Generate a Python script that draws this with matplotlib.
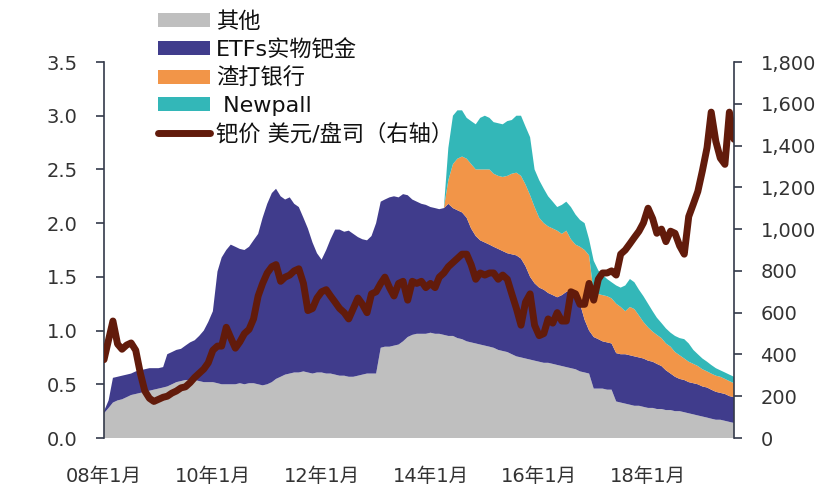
import pandas as pd
import matplotlib.pyplot as plt
from matplotlib.patches import Patch
from matplotlib.lines import Line2D
from matplotlib.ticker import FuncFormatter

plt.rcParams["font.family"] = ["DejaVu Sans", "Noto Sans CJK SC"]

# ----------------------------------
# DATA (monthly, 2008-01 .. 2019-08)
# ----------------------------------
dates = pd.date_range("2008-01-01", periods=140, freq="MS")

# 其他
other = [
    0.23, 0.28, 0.33, 0.35, 0.36, 0.38, 0.40, 0.41, 0.42, 0.43, 0.44, 0.45,
    0.46, 0.47, 0.48, 0.50, 0.52, 0.53, 0.54, 0.54, 0.54, 0.53, 0.52, 0.52,
    0.52, 0.51, 0.50, 0.50, 0.50, 0.50, 0.51, 0.50, 0.51, 0.51, 0.50, 0.49,
    0.50, 0.52, 0.55, 0.57, 0.59, 0.60, 0.61, 0.61, 0.62, 0.61, 0.60, 0.61,
    0.61, 0.60, 0.60, 0.59, 0.58, 0.58, 0.57, 0.57, 0.58, 0.59, 0.60, 0.60,
    0.60, 0.84, 0.85, 0.85, 0.86, 0.87, 0.90, 0.94, 0.96, 0.97, 0.97, 0.97,
    0.98, 0.97, 0.97, 0.96, 0.95, 0.95, 0.93, 0.92, 0.90, 0.89, 0.88, 0.87,
    0.86, 0.85, 0.84, 0.82, 0.81, 0.80, 0.78, 0.76, 0.75, 0.74, 0.73, 0.72,
    0.71, 0.70, 0.70, 0.69, 0.68, 0.67, 0.66, 0.65, 0.64, 0.62, 0.61, 0.60,
    0.46, 0.46, 0.46, 0.45, 0.45, 0.34, 0.33, 0.32, 0.31, 0.30, 0.30, 0.29,
    0.28, 0.28, 0.27, 0.27, 0.26, 0.26, 0.25, 0.25, 0.24, 0.23, 0.22, 0.21,
    0.20, 0.19, 0.18, 0.17, 0.17, 0.16, 0.15, 0.14,
]

# ETFs实物钯金
etf = [
    0.02, 0.07, 0.23, 0.22, 0.22, 0.21, 0.20, 0.21, 0.21, 0.21, 0.21, 0.20,
    0.19, 0.19, 0.30, 0.30, 0.30, 0.30, 0.32, 0.35, 0.37, 0.42, 0.48, 0.56,
    0.66, 1.04, 1.18, 1.25, 1.30, 1.28, 1.25, 1.25, 1.27, 1.33, 1.40, 1.56,
    1.68, 1.76, 1.77, 1.68, 1.63, 1.64, 1.57, 1.54, 1.43, 1.34, 1.22, 1.11,
    1.05, 1.15, 1.25, 1.35, 1.36, 1.34, 1.36, 1.33, 1.29, 1.26, 1.24, 1.28,
    1.40, 1.36, 1.37, 1.39, 1.39, 1.37, 1.37, 1.32, 1.26, 1.23, 1.21, 1.20,
    1.17, 1.17, 1.16, 1.18, 1.23, 1.19, 1.19, 1.18, 1.15, 1.06, 1.00, 0.97,
    0.96, 0.95, 0.94, 0.94, 0.93, 0.92, 0.93, 0.94, 0.92, 0.86, 0.77, 0.72,
    0.69, 0.68, 0.65, 0.64, 0.63, 0.66, 0.70, 0.72, 0.72, 0.63, 0.49, 0.40,
    0.48, 0.46, 0.44, 0.44, 0.43, 0.45, 0.45, 0.46, 0.46, 0.46, 0.45, 0.45,
    0.44, 0.43, 0.42, 0.40, 0.37, 0.34, 0.32, 0.30, 0.30, 0.29, 0.29, 0.29,
    0.28, 0.28, 0.27, 0.26, 0.25, 0.25, 0.24, 0.24,
]

# 渣打银行 (starts 2014-05)
sc = [0.0] * 72 + [
    0.00, 0.00, 0.00, 0.00, 0.22, 0.41, 0.48, 0.52, 0.55, 0.60, 0.62, 0.66,
    0.68, 0.70, 0.68, 0.68, 0.69, 0.72, 0.75, 0.77, 0.77, 0.76, 0.76, 0.71,
    0.65, 0.62, 0.62, 0.62, 0.62, 0.57, 0.57, 0.48, 0.44, 0.53, 0.65, 0.70,
    0.41, 0.42, 0.43, 0.43, 0.42, 0.46, 0.44, 0.40, 0.45, 0.44, 0.39, 0.34,
    0.31, 0.28, 0.27, 0.26, 0.25, 0.25, 0.23, 0.22, 0.20, 0.19, 0.18, 0.17,
    0.16, 0.15, 0.15, 0.15, 0.15, 0.14, 0.14, 0.13,
]

# Newpall (starts 2014-05)
newpall = [0.0] * 72 + [
    0.00, 0.00, 0.00, 0.00, 0.30, 0.45, 0.45, 0.43, 0.38, 0.40, 0.42, 0.48,
    0.50, 0.48, 0.48, 0.49, 0.49, 0.51, 0.50, 0.53, 0.56, 0.54, 0.54, 0.35,
    0.35, 0.32, 0.28, 0.25, 0.22, 0.27, 0.27, 0.30, 0.28, 0.25, 0.25, 0.15,
    0.30, 0.22, 0.19, 0.16, 0.15, 0.17, 0.18, 0.24, 0.26, 0.25, 0.24, 0.24,
    0.22, 0.19, 0.16, 0.14, 0.14, 0.13, 0.15, 0.16, 0.18, 0.17, 0.13, 0.11,
    0.10, 0.09, 0.08, 0.07, 0.06, 0.06, 0.06, 0.06,
]

# 钯价 美元/盎司 (right axis)
price = [
    375, 470, 560, 450, 425, 445, 455, 420, 310, 225, 190, 175,
    185, 195, 200, 215, 225, 240, 245, 265, 290, 310, 330, 360,
    420, 440, 440, 530, 480, 430, 460, 500, 520, 570, 680, 740,
    790, 820, 830, 750, 770, 780, 800, 810, 740, 610, 620, 670,
    700, 710, 680, 650, 620, 600, 570, 620, 670, 640, 600, 690,
    700, 740, 770, 720, 680, 740, 750, 660, 750, 740, 750, 720,
    740, 720, 770, 790, 820, 840, 860, 880, 880, 830, 760, 790,
    780, 790, 790, 760, 780, 760, 690, 620, 540, 650, 690, 540,
    490, 500, 570, 550, 600, 560, 560, 700, 690, 640, 640, 740,
    660, 760, 790, 790, 800, 780, 880, 900, 930, 960, 990, 1030,
    1100, 1050, 980, 1000, 940, 990, 980, 920, 880, 1060, 1120, 1180,
    1280, 1390, 1560, 1420, 1340, 1310, 1560, 1430,
]

series_labels = ["其他", "ETFs实物钯金", "渣打银行", " Newpall"]
price_label = "钯价 美元/盘司（右轴）"

tick_dates = pd.to_datetime(["2008-01-01", "2010-01-01", "2012-01-01",
                             "2014-01-01", "2016-01-01", "2018-01-01"])
tick_labels = ["08年1月", "10年1月", "12年1月", "14年1月", "16年1月", "18年1月"]

colors = ["#bfbfbf", "#403c8c", "#f29548", "#33b7b8"]
LINE_COLOR = "#621b0b"
SPINE_COLOR = "#343a4a"
TEXT_COLOR = "#333333"

# ----------------------------------
# PLOT
# ----------------------------------
fig = plt.figure(figsize=(8.23, 4.86), dpi=100)
ax = fig.add_axes([104 / 823, 48 / 486, 630 / 823, 376 / 486])

ax.stackplot(dates, other, etf, sc, newpall, colors=colors, linewidth=0)

ax.set_xlim(dates[0], dates[-1])
ax.set_ylim(0, 3.5)
ax.set_yticks([0, 0.5, 1.0, 1.5, 2.0, 2.5, 3.0, 3.5])
ax.yaxis.set_major_formatter(FuncFormatter(lambda v, p: f"{v:.1f}"))
ax.set_xticks(tick_dates)
ax.set_xticklabels(tick_labels)

ax.tick_params(axis="x", length=0, pad=21, labelsize=14, colors=TEXT_COLOR)
ax.tick_params(axis="y", direction="out", length=6, width=1.2, pad=13,
               labelsize=14, color=SPINE_COLOR, labelcolor=TEXT_COLOR)

for side in ["top", "bottom", "right"]:
    ax.spines[side].set_visible(False)
ax.spines["left"].set_color(SPINE_COLOR)
ax.spines["left"].set_linewidth(1.2)

# right axis: price
ax2 = ax.twinx()
ax2.plot(dates, price, color=LINE_COLOR, linewidth=5,
         solid_capstyle="round", solid_joinstyle="round")
ax2.set_ylim(0, 1800)
ax2.set_yticks(range(0, 1801, 200))
ax2.yaxis.set_major_formatter(FuncFormatter(lambda v, p: f"{int(v):,}"))
ax2.tick_params(axis="y", direction="out", length=6, width=1.2, pad=13,
                labelsize=14, color=SPINE_COLOR, labelcolor=TEXT_COLOR)
for side in ["top", "bottom", "left"]:
    ax2.spines[side].set_visible(False)
ax2.spines["right"].set_color(SPINE_COLOR)
ax2.spines["right"].set_linewidth(1.2)

# ----------------------------------
# LEGEND
# ----------------------------------
handles = [Patch(facecolor=c, edgecolor="none") for c in colors]
handles.append(Line2D([], [], color=LINE_COLOR, linewidth=5,
                      solid_capstyle="round"))
fig.legend(handles, series_labels + [price_label],
           loc="upper left", bbox_to_anchor=(158 / 823, 1 - 11 / 486),
           frameon=False, fontsize=16, handlelength=2.35, handleheight=0.6,
           handletextpad=0.25, labelspacing=0.33, borderpad=0,
           borderaxespad=0, labelcolor="#111111")

fig.savefig("out.png", dpi=100)
